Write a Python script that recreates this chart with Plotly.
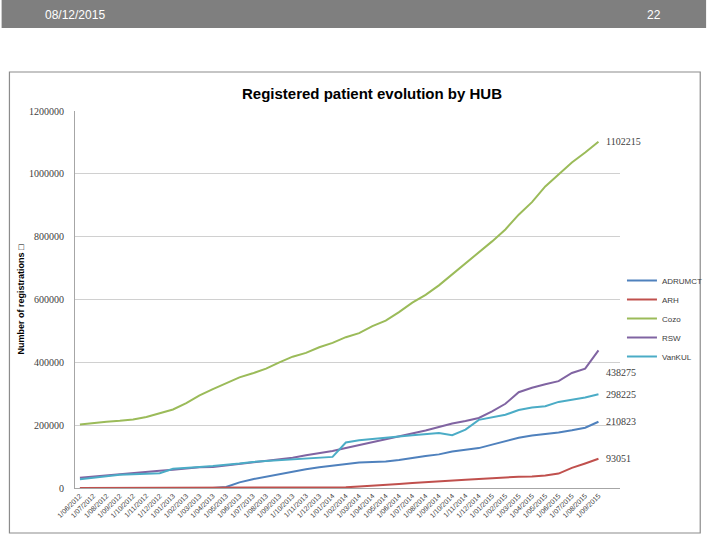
import plotly.graph_objects as go

# ---------------- data ----------------
months = ["1/06/2012", "1/07/2012", "1/08/2012", "1/09/2012", "1/10/2012", "1/11/2012", "1/12/2012",
          "1/01/2013", "1/02/2013", "1/03/2013", "1/04/2013", "1/05/2013", "1/06/2013", "1/07/2013",
          "1/08/2013", "1/09/2013", "1/10/2013", "1/11/2013", "1/12/2013",
          "1/01/2014", "1/02/2014", "1/03/2014", "1/04/2014", "1/05/2014", "1/06/2014", "1/07/2014",
          "1/08/2014", "1/09/2014", "1/10/2014", "1/11/2014", "1/12/2014",
          "1/01/2015", "1/02/2015", "1/03/2015", "1/04/2015", "1/05/2015", "1/06/2015", "1/07/2015",
          "1/08/2015", "1/09/2015"]

adrumct = [0, 0, 0, 0, 0, 0, 0, 0, 0, 0, 0, 3000, 18000, 28000, 36000, 45000, 53000, 60000, 66000, 71000,
           77000, 81000, 83000, 84000, 89000, 96000, 102000, 107000, 116000, 122000, 127000, 138000, 148000,
           160000, 167000, 171000, 177000, 184000, 192000, 210823]
arh = [0, 0, 0, 0, 0, 0, 0, 0, 0, 0, 0, 0, 0, 0, 0, 0, 0, 0, 0, 0,
       2000, 5000, 7000, 10000, 13000, 16000, 18000, 20000, 23000, 26000, 29000, 32000, 35000,
       36000, 37000, 40000, 46000, 64000, 78000, 93051]
cozo = [202000, 207000, 211000, 214000, 218000, 226000, 238000, 250000, 270000, 295000, 315000, 333000,
        352000, 365000, 380000, 400000, 418000, 430000, 448000, 462000, 480000, 493000, 515000, 533000,
        560000, 590000, 615000, 645000, 680000, 712000, 750000, 785000, 823000, 870000, 910000, 960000,
        998000, 1036000, 1068000, 1102215]
rsw = [33000, 37000, 40000, 45000, 49000, 52000, 55000, 58000, 63000, 66000, 67000, 72000, 78000, 83000,
       87000, 91000, 96000, 104000, 110000, 118000, 127000, 136000, 146000, 156000, 165000, 174000, 183000,
       194000, 205000, 213000, 223000, 244000, 268000, 305000, 319000, 330000, 340000, 366000, 380000, 438275]
vankul = [28000, 33000, 38000, 42000, 44000, 45000, 47000, 61000, 63000, 67000, 70000, 73000, 78000, 83000,
          86000, 88000, 91000, 93000, 96000, 99000, 145000, 152000, 156000, 159000, 164000, 168000, 171000,
          175000, 168000, 186000, 217000, 226000, 233000, 248000, 256000, 260000, 274000, 281000, 288000, 298225]

series_names = ["ADRUMCT", "ARH", "Cozo", "RSW", "VanKUL"]
series_values = [adrumct, arh, cozo, rsw, vankul]
series_colors = ["#4F81BD", "#C0504D", "#9BBB59", "#8064A2", "#4BACC6"]
label_shift = [0, 0, 0, -22, 0]

y_ticks = [0, 200000, 400000, 600000, 800000, 1000000, 1200000]

# ---------------- layout geometry ----------------
W, H = 720, 540
ML, MR, MT, MB = 75, 88, 111, 52
PW, PH = W - ML - MR, H - MT - MB


def px(x):
    return (x - ML) / PW


def py(y):
    return (H - MB - y) / PH


x_idx = list(range(len(months)))

fig = go.Figure()
for name, vals, col in zip(series_names, series_values, series_colors):
    fig.add_trace(go.Scatter(x=x_idx, y=vals, name=name, mode="lines",
                             line=dict(color=col, width=2)))

annotations = []
for name, vals, sh in zip(series_names, series_values, label_shift):
    annotations.append(dict(x=x_idx[-1], y=vals[-1], xref="x", yref="y", text=str(vals[-1]),
                            showarrow=False, xanchor="left", xshift=6, yshift=sh,
                            font=dict(family="Liberation Serif", size=10, color="#404040")))

annotations += [
    dict(x=px(42), y=py(15), xref="paper", yref="paper", text="08/12/2015", showarrow=False,
         xanchor="left", yanchor="middle", font=dict(family="Liberation Sans", size=12, color="white")),
    dict(x=px(676), y=py(15), xref="paper", yref="paper", text="22", showarrow=False,
         xanchor="right", yanchor="middle", font=dict(family="Liberation Sans", size=12, color="white")),
    dict(x=px(379), y=py(93), xref="paper", yref="paper", text="<b>Registered patient evolution by HUB</b>",
         showarrow=False, xanchor="center", yanchor="middle",
         font=dict(family="Liberation Sans", size=15, color="black")),
]

shapes = [
    dict(type="rect", xref="paper", yref="paper", x0=px(0), x1=px(720), y0=py(28), y1=py(0),
         fillcolor="#7F7F7F", line=dict(width=0), layer="below"),
    dict(type="rect", xref="paper", yref="paper", x0=px(8), x1=px(714), y0=py(533), y1=py(72),
         fillcolor="rgba(0,0,0,0)", line=dict(color="#8C8C8C", width=1.2), layer="below"),
]

fig.update_layout(
    width=W, height=H,
    margin=dict(l=ML, r=MR, t=MT, b=MB),
    paper_bgcolor="white", plot_bgcolor="white",
    showlegend=True,
    legend=dict(x=px(634), y=py(266), xanchor="left", yanchor="top",
                font=dict(family="Liberation Sans", size=8, color="#404040"),
                bgcolor="rgba(0,0,0,0)", tracegroupgap=0),
    annotations=annotations,
    shapes=shapes,
)

fig.update_xaxes(range=[-0.37, 40.62], tickmode="array", tickvals=x_idx, ticktext=months,
                 tickangle=-45, tickfont=dict(family="Liberation Sans", size=7, color="#404040"),
                 showgrid=False, showline=True, linecolor="#A6A6A6", linewidth=1, zeroline=False,
                 ticks="", fixedrange=True)
fig.update_yaxes(range=[0, 1200000], tickmode="array", tickvals=y_ticks,
                 ticktext=[str(v) for v in y_ticks],
                 tickfont=dict(family="Liberation Serif", size=10, color="#404040"),
                 ticklabelstandoff=8,
                 showgrid=True, gridcolor="#D0D0D0", gridwidth=1,
                 showline=True, linecolor="#A6A6A6", linewidth=1, zeroline=False, ticks="",
                 title=dict(text="<b>Number of registrations □</b>", standoff=2,
                            font=dict(family="Liberation Sans", size=9, color="black")))

fig.write_html("out.html", config={"displayModeBar": False},
               post_script="document.body.style.margin='0';document.body.style.overflow='hidden';")
